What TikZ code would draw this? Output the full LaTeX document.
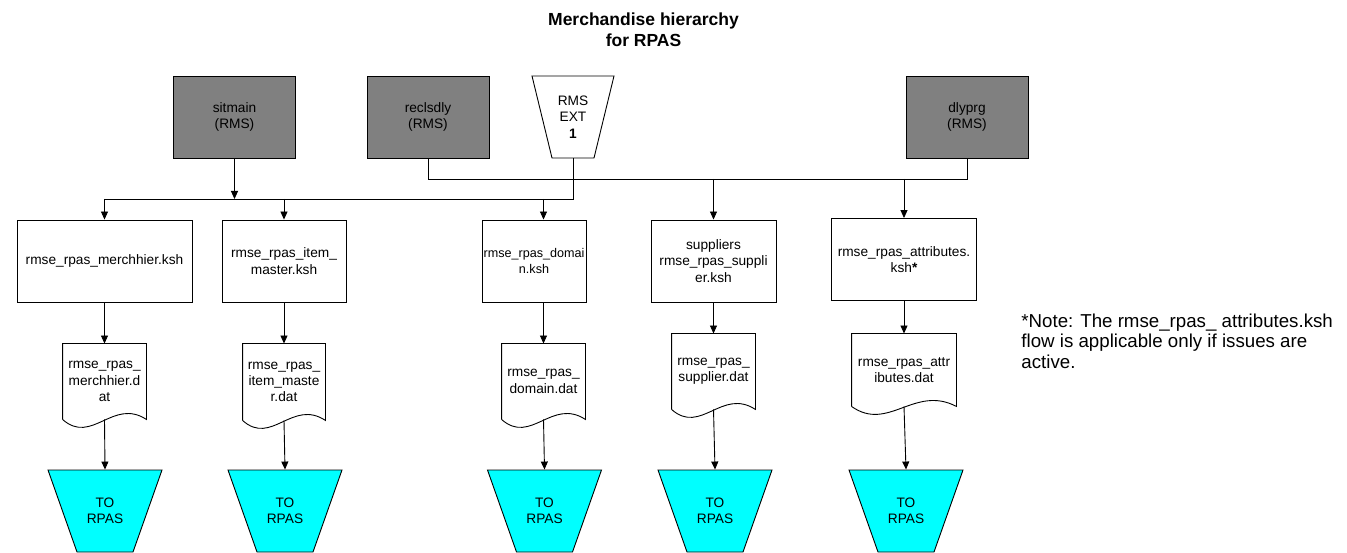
\documentclass[tikz,border=0pt]{standalone}
\usepackage{fontspec}
\setmainfont{Liberation Sans}
\usetikzlibrary{arrows.meta,calc}
\definecolor{rmsgray}{HTML}{808080}
\definecolor{rpascyan}{HTML}{00FFFF}

\begin{document}
\begin{tikzpicture}[x=1pt,y=-1pt,line width=0.9pt,
    font=\fontsize{13.7}{16.3}\selectfont,
    every node/.style={align=center,inner sep=0pt},
    rmsjob/.style={draw,fill=rmsgray,minimum width=122pt,minimum height=82pt},
    rmsext/.style={minimum width=82pt,minimum height=82pt},
    kshjob/.style={draw,fill=white,minimum height=82pt},
    datfile/.style={minimum width=83pt,minimum height=75pt},
    torpas/.style={minimum width=114pt,minimum height=82pt},
    arr/.style={-{Triangle[length=8pt,width=7pt]}}]
\useasboundingbox (0,0) rectangle (1347,553);

% title
\node[font=\fontsize{17.5}{20.5}\selectfont\bfseries] (title) at (643.5,29.5)
    {Merchandise hierarchy\\for RPAS};

% RMS sources
\node[rmsjob] (sitmain) at (234.5,117) {sitmain\\(RMS)};
\node[rmsjob] (reclsdly) at (428,117) {reclsdly\\(RMS)};
\filldraw[fill=white] (532,76) -- (614,76) -- (594,158) -- (552,158) -- cycle;
\node[rmsext] (ext) at (573,117) {RMS\\EXT\\\textbf{1}};
\node[rmsjob] (dlyprg) at (967,117) {dlyprg\\(RMS)};

% ksh jobs
\node[kshjob,minimum width=175pt] (ksh1) at (104.5,261) {rmse\_rpas\_merchhier.ksh};
\node[kshjob,minimum width=124pt] (ksh2) at (284,261) {rmse\_rpas\_item\_\\master.ksh};
\node[kshjob,minimum width=104pt,font=\fontsize{12.6}{16.3}\selectfont] (ksh3) at (534,261) {rmse\_rpas\_domai\\n.ksh};
\node[kshjob,minimum width=125pt] (ksh4) at (713.5,261) {suppliers\\rmse\_rpas\_suppli\\er.ksh};
\node[kshjob,minimum width=145pt] (ksh5) at (904,259.5) {rmse\_rpas\_attributes.\\ksh\textbf{*}};

% dat files
\node[datfile] (dat1) at (104.5,381.5) {rmse\_rpas\_\\merchhier.d\\at};
\node[datfile,minimum width=82pt,minimum height=76pt] (dat2) at (284,382) {rmse\_rpas\_\\item\_maste\\r.dat};
\node[datfile] (dat3) at (543.5,381.5) {rmse\_rpas\_\\domain.dat};
\node[datfile] (dat4) at (713.5,371.5) {rmse\_rpas\_\\supplier.dat};
\node[datfile,minimum width=104pt,minimum height=72pt] (dat5) at (904,370) {rmse\_rpas\_attr\\ibutes.dat};
\foreach \d in {dat1,dat2,dat3,dat4,dat5}
    \draw (\d.south west) -- (\d.north west) -- (\d.north east) -- (\d.south east)
        .. controls ($(\d.south west)!0.6!(\d.south east)+(0,-22)$)
        and ($(\d.south west)!0.35!(\d.south east)+(0,26)$) .. (\d.south west);

% to RPAS
\foreach \n/\x in {to1/105,to2/285,to3/544.5,to4/715,to5/906} {
    \filldraw[fill=rpascyan] (\x-57,470) -- (\x+57,470) -- (\x+28,552) -- (\x-28,552) -- cycle;
    \node[torpas] (\n) at (\x,511) {TO\\RPAS};
}

% note
\node[anchor=north west,align=left,font=\fontsize{18.7}{21}\selectfont] (note) at (1021,313)
    {*Note: The rmse\_rpas\_ attributes.ksh\\flow is applicable only if issues are\\active.};

% feeds
\coordinate (busA) at (0,199);
\coordinate (busB) at (0,179);
\draw (ext.south) -- (ext.south |- busA) -- (busA -| ksh1.north);
\draw[arr] (sitmain.south) -- (sitmain.south |- busA);
\draw[arr] (busA -| ksh1.north) -- (ksh1.north);
\draw[arr] (busA -| ksh2.north) -- (ksh2.north);
\draw[arr] (busA -| dat3.north) -- (ksh3.north -| dat3.north);
\draw (reclsdly.south) -- (reclsdly.south |- busB) -- (busB -| dlyprg.south) -- (dlyprg.south);
\draw[arr] (busB -| ksh4.north) -- (ksh4.north);
\draw[arr] (busB -| ksh5.north) -- (ksh5.north);

\draw[arr] (ksh1.south) -- (dat1.north);
\draw[arr] (ksh2.south) -- (dat2.north);
\draw[arr] (ksh3.south -| dat3.north) -- (dat3.north);
\draw[arr] (ksh4.south) -- (dat4.north);
\draw[arr] (ksh5.south) -- (dat5.north);

\draw[arr] (dat1.south) -- (to1.north);
\draw[arr] (dat2.south) -- (to2.north);
\draw[arr] (dat3.south) -- (to3.north);
\draw[arr] (dat4.south) -- (to4.north);
\draw[arr] (dat5.south) -- (to5.north);
\end{tikzpicture}
\end{document}
